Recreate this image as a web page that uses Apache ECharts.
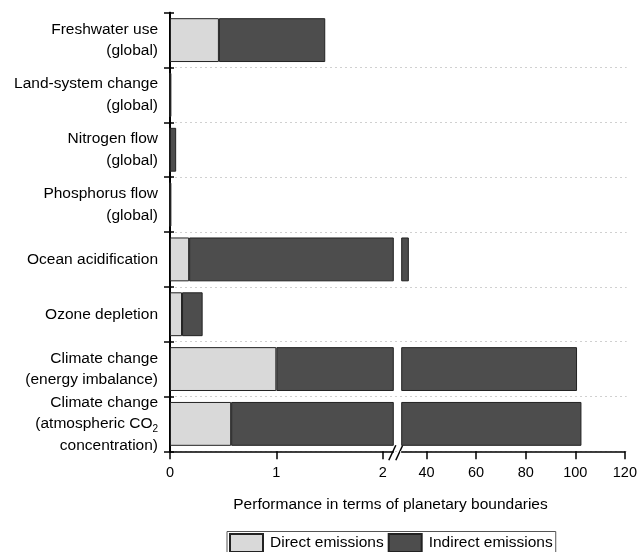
<!DOCTYPE html>
<html><head><meta charset="utf-8">
<script src="https://cdn.jsdelivr.net/npm/echarts@6/dist/echarts.min.js"></script>
<style>html,body{margin:0;padding:0;background:#fff}#c{width:640px;height:552px}</style>
</head><body><div id="c"></div>
<script>
const categories = ['Freshwater use\n(global)', 'Land-system change\n(global)', 'Nitrogen flow\n(global)', 'Phosphorus flow\n(global)', 'Ocean acidification', 'Ozone depletion', 'Climate change\n(energy imbalance)', 'Climate change\n(atmospheric CO2\nconcentration)'];
const directEmissions = [0.46, 0, 0, 0, 0.18, 0.113, 1.0, 0.575];
const indirectEmissions = [1.0, 0.013, 0.058, 0.013, 32.7, 0.194, 99.7, 101.9];
const leftTicks = [0, 1, 2];
const rightTicks = [40, 60, 80, 100, 120];
const leftRange = [0, 2.1];
const rightRange = [30, 120];
const seriesNames = ['Direct emissions', 'Indirect emissions'];
const xTitle = 'Performance in terms of planetary boundaries';

const FONT = '"Liberation Sans", Arial, sans-serif';
const TOP = 12.7, H = 438.6;
const L1 = 170, W1 = 223.3;
const L2 = 401.7, W2 = 225;
const AXIS_Y = TOP + H;

const chart = echarts.init(document.getElementById('c'), null, {renderer: 'canvas'});

function catLabel(v) {
  if (v.indexOf('CO2') >= 0) {
    const lines = v.split('\n');
    return lines.map(l => l.indexOf('CO2') >= 0 ? '{n|' + l.replace('CO2', 'CO') + '}{s|2}' : '{n|' + l + '}').join('\n');
  }
  return v;
}

const barStyle = (c) => ({color: c, borderColor: '#222', borderWidth: 1});
const colors = ['#d9d9d9', '#4d4d4d'];

const xAxisCommon = {
  type: 'value',
  axisLine: {show: true, lineStyle: {color: '#000', width: 1.5}},
  axisTick: {show: true, length: 8, lineStyle: {color: '#000', width: 1.5}},
  axisLabel: {color: '#000', fontSize: 14.5, fontFamily: FONT, margin: 14},
  splitLine: {show: false}
};

const option = {
  animation: false,
  backgroundColor: '#fff',
  textStyle: {fontFamily: FONT},
  grid: [
    {left: L1, top: TOP, width: W1, height: H},
    {left: L2, top: TOP, width: W2, height: H},
    {left: L1, top: TOP, width: L2 + W2 - L1, height: H}
  ],
  xAxis: [
    Object.assign({}, xAxisCommon, {gridIndex: 0, min: leftRange[0], max: leftRange[1],
      axisTick: Object.assign({}, xAxisCommon.axisTick, {customValues: leftTicks}),
      axisLabel: Object.assign({}, xAxisCommon.axisLabel, {customValues: leftTicks})}),
    Object.assign({}, xAxisCommon, {gridIndex: 1, min: rightRange[0], max: rightRange[1],
      axisTick: Object.assign({}, xAxisCommon.axisTick, {customValues: rightTicks}),
      axisLabel: Object.assign({}, xAxisCommon.axisLabel, {customValues: rightTicks})}),
    {type: 'value', gridIndex: 2, min: 0, max: 1, show: false}
  ],
  yAxis: [
    {type: 'category', gridIndex: 0, data: categories, inverse: true,
      axisLine: {show: true, lineStyle: {color: '#000', width: 2}},
      axisTick: {show: true, inside: false, length: 6, lineStyle: {color: '#000', width: 1.5}},
      axisLabel: {color: '#000', fontSize: 15.5, lineHeight: 21.5, fontFamily: FONT, margin: 12, align: 'right',
        formatter: catLabel,
        rich: {n: {fontSize: 15.5, lineHeight: 21.5, fontFamily: FONT, color: '#000'},
               s: {fontSize: 10, lineHeight: 14, verticalAlign: 'bottom', fontFamily: FONT, color: '#000'}}},
      splitLine: {show: false}},
    {type: 'category', gridIndex: 1, data: categories, inverse: true, show: false},
    {type: 'category', gridIndex: 2, data: categories, inverse: true,
      axisLine: {show: true, lineStyle: {color: '#000', width: 2}},
      axisTick: {show: true, inside: true, length: 4, lineStyle: {color: '#000', width: 1.5}},
      axisLabel: {show: false},
      splitLine: {show: true, interval: (i) => i !== 0, lineStyle: {type: [2, 3], color: '#d0d0d0', width: 1}}}
  ],
  legend: {
    data: seriesNames,
    left: 227, top: 531.5,
    orient: 'horizontal',
    padding: [1.5, 3, 2, 2],
    itemGap: 4,
    itemWidth: 33, itemHeight: 18,
    icon: 'rect',
    borderColor: '#555', borderWidth: 1,
    textStyle: {color: '#000', fontSize: 15.5, fontFamily: FONT, padding: [0, 0, 0, 2]},
    selectedMode: false
  },
  series: [
    {name: seriesNames[0], type: 'bar', stack: 'L', xAxisIndex: 0, yAxisIndex: 0, data: directEmissions, barCategoryGap: '20%', itemStyle: barStyle(colors[0]), silent: true},
    {name: seriesNames[1], type: 'bar', stack: 'L', xAxisIndex: 0, yAxisIndex: 0, data: indirectEmissions, barCategoryGap: '20%', itemStyle: barStyle(colors[1]), silent: true},
    {name: seriesNames[0], type: 'bar', stack: 'R', xAxisIndex: 1, yAxisIndex: 1, data: directEmissions, barCategoryGap: '20%', itemStyle: barStyle(colors[0]), silent: true},
    {name: seriesNames[1], type: 'bar', stack: 'R', xAxisIndex: 1, yAxisIndex: 1, data: indirectEmissions, barCategoryGap: '20%', itemStyle: barStyle(colors[1]), silent: true}
  ],
  graphic: [
    {type: 'line', shape: {x1: L1 + W1 - 4.5, y1: AXIS_Y + 9, x2: L1 + W1 + 2.5, y2: AXIS_Y - 6}, style: {stroke: '#000', lineWidth: 1.5}},
    {type: 'line', shape: {x1: L1 + W1 + 2.5, y1: AXIS_Y + 9, x2: L2 + 1, y2: AXIS_Y - 6}, style: {stroke: '#000', lineWidth: 1.5}},
    {type: 'text', x: 390.5, y: 505, style: {text: xTitle, fontSize: 15.5, fontFamily: FONT, fill: '#000', align: 'center', verticalAlign: 'middle', textAlign: 'center', textVerticalAlign: 'middle'}}
  ]
};
chart.setOption(option);
</script>
</body></html>
